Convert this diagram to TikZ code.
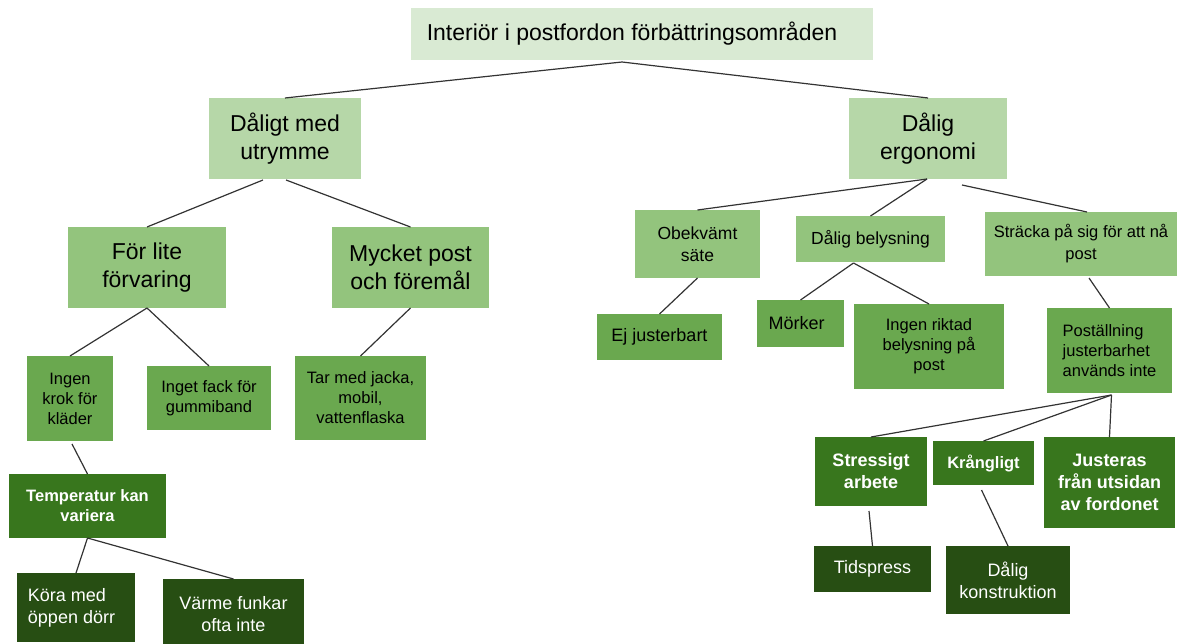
\documentclass[tikz,border=0pt]{standalone}
\usepackage{fontspec}
\setmainfont{Liberation Sans}
\usetikzlibrary{calc}
\definecolor{cA}{HTML}{D9EAD3}
\definecolor{cB}{HTML}{B6D7A8}
\definecolor{cC}{HTML}{93C47D}
\definecolor{cD}{HTML}{6AA84F}
\definecolor{cE}{HTML}{38761D}
\definecolor{cF}{HTML}{274E13}
\definecolor{lineC}{HTML}{333333}
\tikzset{
  box/.style={inner sep=0pt, outer sep=0pt, align=center, text=black},
  lvA/.style={box, fill=cA, font=\fontsize{23}{28}\selectfont},
  lvB/.style={box, fill=cB, font=\fontsize{23}{28}\selectfont},
  lvC/.style={box, fill=cC, font=\fontsize{23}{28}\selectfont},
  lvCs/.style={box, fill=cC, font=\fontsize{17.5}{22.5}\selectfont},
  lvCt/.style={box, fill=cC, font=\fontsize{16.5}{22}\selectfont},
  lvD/.style={box, fill=cD, font=\fontsize{16.5}{20}\selectfont},
  lvDl/.style={box, fill=cD, font=\fontsize{18}{22}\selectfont},
  lvE/.style={box, fill=cE, text=white, font=\bfseries\fontsize{16.5}{20}\selectfont},
  lvEl/.style={box, fill=cE, text=white, font=\bfseries\fontsize{18}{22}\selectfont},
  lvF/.style={box, fill=cF, text=white, font=\fontsize{18}{22}\selectfont},
  conn/.style={draw=lineC, line width=1.2pt},
}
\begin{document}
\begin{tikzpicture}[x=1pt,y=-1pt]
\useasboundingbox (0,0) rectangle (1180,644);
% level 1
\node[lvA, minimum width=462, minimum height=52] (root) at (642,34) {Interiör i postfordon förbättringsområden\hspace*{20pt}};
% level 2
\node[lvB, minimum width=152, minimum height=81] (dalutr) at (285,138.5) {Dåligt med\\utrymme};
\node[lvB, minimum width=158, minimum height=81] (dalerg) at (928,138.5) {Dålig\\ergonomi};
% level 3
\node[lvC, minimum width=158, minimum height=81] (forlite) at (147,267.5) {För lite\\förvaring};
\node[lvC, minimum width=157, minimum height=81] (mycket) at (410.5,267.5) {Mycket post\\och föremål};
\node[lvCs, minimum width=125, minimum height=68] (obekv) at (697.5,244) {Obekvämt\\säte};
\node[lvCs, minimum width=149, minimum height=46] (dalbel) at (870.5,239) {Dålig belysning};
\node[lvCt, minimum width=192, minimum height=64] (stracka) at (1081,244) {Sträcka på sig för att nå\\post};
% level 4
\node[lvD, minimum width=86, minimum height=85] (ingenk) at (70,398.5) {Ingen\\krok för\\kläder};
\node[lvD, minimum width=124, minimum height=64] (inget) at (209,398) {Inget fack för\\gummiband};
\node[lvD, minimum width=131, minimum height=84] (tarmed) at (360.5,398) {Tar med jacka,\\mobil,\\vattenflaska};
\node[lvDl, minimum width=125, minimum height=46] (ejjust) at (659.5,337) {Ej justerbart};
\node[lvDl, minimum width=87, minimum height=47] (morker) at (800.5,323.5) {Mörker\hspace*{8pt}};
\node[lvD, minimum width=150, minimum height=85] (ingenr) at (929,346.5) {Ingen riktad\\belysning på\\post};
\node[lvD, minimum width=125, minimum height=85, align=left] (postst) at (1109.5,350.5) {Poställning\\justerbarhet\\används inte};
% level 5
\node[lvE, minimum width=157, minimum height=64] (temp) at (87.5,506) {Temperatur kan\\variera};
\node[lvEl, minimum width=112, minimum height=69] (stress) at (871,471.5) {Stressigt\\arbete};
\node[lvE, minimum width=101, minimum height=44] (krang) at (983.5,463) {Krångligt};
\node[lvEl, minimum width=131, minimum height=91] (juster) at (1109.5,482.5) {Justeras\\från utsidan\\av fordonet};
% level 6
\node[lvF, minimum width=118, minimum height=69, align=left] (kora) at (76,607.5) {Köra med\hspace*{18pt}\\öppen dörr};
\node[lvF, minimum width=141, minimum height=70] (varme) at (233.5,614) {Värme funkar\\ofta inte};
\node[lvF, minimum width=117, minimum height=46] (tids) at (872.5,569) {Tidspress};
\node[lvF, minimum width=124, minimum height=68] (dalkon) at (1008,580) {Dålig\\konstruktion};
% connectors
\draw[conn] ($(root.south)+(-20,2)$) -- (dalutr.north);
\draw[conn] ($(root.south)+(-20,2)$) -- (dalerg.north);
\draw[conn] ($(dalutr.south)+(-22,1)$) -- (forlite.north);
\draw[conn] ($(dalutr.south)+(1,1)$) -- (mycket.north);
\draw[conn] (forlite.south) -- (ingenk.north);
\draw[conn] (forlite.south) -- (inget.north);
\draw[conn] (mycket.south) -- (tarmed.north);
\draw[conn] ($(ingenk.south)+(2,3)$) -- (temp.north);
\draw[conn] (temp.south) -- (kora.north);
\draw[conn] (temp.south) -- (varme.north);
\draw[conn] ($(dalerg.south)+(-1,0)$) -- (obekv.north);
\draw[conn] ($(dalerg.south)+(-1,0)$) -- (dalbel.north);
\draw[conn] ($(dalerg.south)+(34,6)$) -- ($(stracka.north)+(6,0)$);
\draw[conn] (obekv.south) -- (ejjust.north);
\draw[conn] ($(dalbel.south)+(-17,1)$) -- (morker.north);
\draw[conn] ($(dalbel.south)+(-17,1)$) -- (ingenr.north);
\draw[conn] ($(stracka.south)+(8,2)$) -- (postst.north);
\draw[conn] ($(postst.south)+(2,2)$) -- (stress.north);
\draw[conn] ($(postst.south)+(2,2)$) -- (krang.north);
\draw[conn] ($(postst.south)+(2,2)$) -- (juster.north);
\draw[conn] ($(stress.south)+(-2,5)$) -- (tids.north);
\draw[conn] ($(krang.south)+(-2,5)$) -- (dalkon.north);
\end{tikzpicture}
\end{document}
